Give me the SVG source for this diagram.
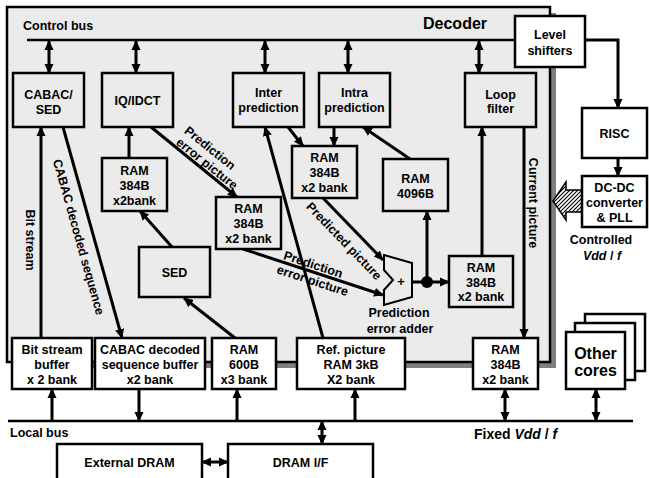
<svg xmlns="http://www.w3.org/2000/svg" width="649" height="478" viewBox="0 0 649 478">
<style>
text{font-family:"Liberation Sans",Arial,sans-serif;font-weight:bold;font-size:12.5px;text-anchor:middle;fill:#000}
.l{text-anchor:start}
.it{font-style:italic}
.bx{stroke:#000;stroke-width:2.5;fill:#ebebeb}
.wb{stroke:#000;stroke-width:2.5;fill:#fff}
.c{stroke:#000;stroke-width:3;fill:none}
.a{marker-end:url(#ah)}
.d{marker-start:url(#ah);marker-end:url(#ah)}
.bus{stroke:#000;stroke-width:2.5;fill:none}
</style>
<defs>
<marker id="ah" viewBox="0 0 10 10" refX="9" refY="5" markerWidth="10" markerHeight="10" markerUnits="userSpaceOnUse" orient="auto-start-reverse">
<path d="M0,0.5 L10,5 L0,9.5 z" fill="#000"/>
</marker>
<pattern id="hatch" width="4" height="4" patternUnits="userSpaceOnUse">
<rect width="4" height="4" fill="#fff"/>
<path d="M-1,1 L1,-1 M0,4 L4,0 M3,5 L5,3" stroke="#000" stroke-width="1.1"/>
</pattern>
</defs>
<rect width="649" height="478" fill="#fff"/>

<g id="decoder">
<rect x="13" y="13" width="543" height="355" fill="#7f7f7f"/>
<rect x="7" y="7" width="543" height="355" fill="#ebebeb" stroke="#000" stroke-width="2.5"/>
<text class="l" x="423" y="28.5" style="font-size:16px">Decoder</text>
<text class="l" x="23" y="29.5">Control bus</text>
</g>

<g id="connectors">
<line class="bus" x1="27" y1="40" x2="515" y2="40"/>
<line class="bus" x1="8" y1="421" x2="633" y2="421"/>
<line class="c d" x1="49" y1="41" x2="49" y2="73"/>
<line class="c d" x1="136" y1="41" x2="136" y2="73"/>
<line class="c d" x1="265" y1="41" x2="265" y2="73"/>
<line class="c d" x1="348" y1="41" x2="348" y2="73"/>
<line class="c d" x1="479" y1="41" x2="479" y2="73"/>
<line class="c a" x1="41" y1="338" x2="41" y2="127"/>
<line class="c a" x1="63" y1="127" x2="122" y2="338"/>
<line class="c a" x1="151" y1="127" x2="237" y2="197"/>
<line class="c a" x1="129" y1="158" x2="129" y2="127"/>
<line class="c a" x1="172" y1="247" x2="140" y2="211"/>
<line class="c a" x1="235" y1="338" x2="184" y2="298"/>
<line class="c a" x1="323" y1="338" x2="265" y2="127"/>
<line class="c a" x1="288" y1="127" x2="303" y2="146"/>
<line class="c a" x1="334" y1="127" x2="334" y2="146"/>
<line class="c a" x1="410" y1="159" x2="363" y2="127"/>
<line class="c a" x1="323" y1="198" x2="383" y2="260"/>
<line class="c a" x1="243" y1="249" x2="383" y2="295"/>
<line class="c a" x1="412" y1="282" x2="449" y2="282"/>
<line class="c a" x1="427" y1="282" x2="427" y2="211"/>
<circle cx="427" cy="282" r="6" fill="#000"/>
<line class="c a" x1="482" y1="256" x2="482" y2="127"/>
<line class="c a" x1="524" y1="127" x2="524" y2="338"/>
<polyline class="c a" points="585,40 618,40 618,108"/>
<line class="c a" x1="618" y1="158" x2="618" y2="176"/>
<polygon points="553,201 566,182 566,190 582,190 582,212 566,212 566,220" fill="url(#hatch)" stroke="#000" stroke-width="1.5"/>
<line class="c a" x1="52" y1="421" x2="52" y2="389"/>
<line class="c a" x1="139" y1="389" x2="139" y2="421"/>
<line class="c a" x1="237" y1="421" x2="237" y2="389"/>
<line class="c a" x1="355" y1="421" x2="355" y2="389"/>
<line class="c d" x1="505" y1="389" x2="505" y2="421"/>
<line class="c d" x1="596" y1="389" x2="596" y2="421"/>
<line class="c d" x1="322" y1="421" x2="322" y2="444"/>
<line class="c d" x1="202" y1="462" x2="228" y2="462"/>
<text transform="translate(30,240) rotate(90)" y="4.5">Bit stream</text>
<text transform="translate(79,237) rotate(74.3)" y="4.5">CABAC decoded sequence</text>
<text transform="translate(533,203) rotate(90)" y="4.5">Current picture</text>
<g transform="translate(151,128) rotate(38.7)">
<text x="58.5" y="-17">Prediction</text>
<text x="66" y="-3">error picture</text>
</g>
<g transform="translate(243,249) rotate(18.2)">
<text x="71.5" y="-3">Prediction</text>
<text x="76" y="12.5">error picture</text>
</g>
<g transform="translate(323,198) rotate(46)">
<text x="45.5" y="19">Predicted picture</text>
</g>
<text class="l" x="10" y="436.5">Local bus</text>
<text class="l" x="474" y="439" style="font-size:14px">Fixed <tspan class="it">Vdd</tspan> / <tspan class="it">f</tspan></text>
<text x="601" y="243.5">Controlled</text>
<text x="602" y="260"><tspan class="it">Vdd</tspan> / <tspan class="it">f</tspan></text>
</g>

<g id="cabac_sed"><rect class="bx" x="13" y="73" width="71" height="54"/><text x="48.5" y="98.5">CABAC/</text><text x="48.5" y="113.5">SED</text></g>
<g id="iq_idct"><rect class="bx" x="102" y="73" width="71" height="54"/><text x="137.5" y="104.5">IQ/IDCT</text></g>
<g id="inter_pred"><rect class="bx" x="233" y="73" width="71" height="54"/><text x="268.5" y="97">Inter</text><text x="268.5" y="112">prediction</text></g>
<g id="intra_pred"><rect class="bx" x="319" y="73" width="71" height="54"/><text x="354.5" y="97">Intra</text><text x="354.5" y="112">prediction</text></g>
<g id="loop_filter"><rect class="bx" x="465" y="73" width="71" height="54"/><text x="500.5" y="98.5">Loop</text><text x="500.5" y="113">filter</text></g>
<g id="level_shifters"><rect class="wb" x="515" y="16" width="70" height="51"/><text x="550" y="39">Level</text><text x="550" y="54.5">shifters</text></g>
<g id="risc"><rect class="wb" x="582" y="108" width="65" height="50"/><text x="614.5" y="137.5">RISC</text></g>
<g id="dcdc"><rect class="wb" x="582" y="176" width="65" height="51"/><text x="614.5" y="191.5">DC-DC</text><text x="614.5" y="206.5">converter</text><text x="614.5" y="222">&amp; PLL</text></g>
<g id="ram_iq"><rect class="bx" x="102" y="158" width="65" height="53"/><text x="134.5" y="174.5">RAM</text><text x="134.5" y="189.5">384B</text><text x="134.5" y="204.5">x2bank</text></g>
<g id="sed"><rect class="bx" x="139" y="247" width="71" height="50"/><text x="174.5" y="276.5">SED</text></g>
<g id="ram_err"><rect class="bx" x="216" y="197" width="65" height="52"/><text x="248.5" y="212.5">RAM</text><text x="248.5" y="227.5">384B</text><text x="248.5" y="242.5">x2 bank</text></g>
<g id="ram_pred"><rect class="bx" x="292" y="146" width="65" height="52"/><text x="324.5" y="161.5">RAM</text><text x="324.5" y="176.5">384B</text><text x="324.5" y="192">x2 bank</text></g>
<g id="ram_4096"><rect class="bx" x="383" y="159" width="65" height="52"/><text x="415.5" y="182.5">RAM</text><text x="415.5" y="197.5">4096B</text></g>
<g id="ram_loop"><rect class="bx" x="449" y="256" width="64" height="51"/><text x="481" y="271.5">RAM</text><text x="481" y="286.5">384B</text><text x="481" y="300.5">x2 bank</text></g>
<g id="adder"><polygon points="384,255 412,263 412,297 384,305 384,290 393,280 384,270" fill="#ebebeb" stroke="#000" stroke-width="2"/><text x="401" y="286" style="font-size:13px">+</text><text x="399" y="316.5">Prediction</text><text x="400" y="332.5">error adder</text></g>
<g id="bs_buffer"><rect class="wb" x="12" y="338" width="80" height="51"/><text x="52" y="354">Bit stream</text><text x="52" y="368.5">buffer</text><text x="52" y="384">x 2 bank</text></g>
<g id="cabac_buffer"><rect class="wb" x="95" y="338" width="110" height="51"/><text x="150" y="354">CABAC decoded</text><text x="150" y="368.5">sequence buffer</text><text x="150" y="384">x2 bank</text></g>
<g id="ram_600"><rect class="wb" x="212" y="338" width="64" height="51"/><text x="244" y="354">RAM</text><text x="244" y="368.5">600B</text><text x="244" y="384">x3 bank</text></g>
<g id="ref_ram"><rect class="wb" x="297" y="338" width="108" height="51"/><text x="351" y="354">Ref. picture</text><text x="351" y="368.5">RAM 3kB</text><text x="351" y="384">X2 bank</text></g>
<g id="ram_cur"><rect class="wb" x="473" y="338" width="65" height="51"/><text x="505.5" y="354">RAM</text><text x="505.5" y="368.5">384B</text><text x="505.5" y="384">x2 bank</text></g>
<g id="other_cores"><rect class="wb" x="585" y="314" width="60" height="57"/><rect class="wb" x="575" y="323" width="60" height="57"/><rect class="wb" x="566" y="332" width="59" height="57"/><text x="595.5" y="358.5" style="font-size:16px">Other</text><text x="595.5" y="375.5" style="font-size:16px">cores</text></g>
<g id="ext_dram"><rect class="wb" x="57" y="444" width="145" height="40"/><text x="129.5" y="466.5">External DRAM</text></g>
<g id="dram_if"><rect class="wb" x="228" y="444" width="145" height="40"/><text x="300.5" y="466.5">DRAM I/F</text></g>
</svg>
